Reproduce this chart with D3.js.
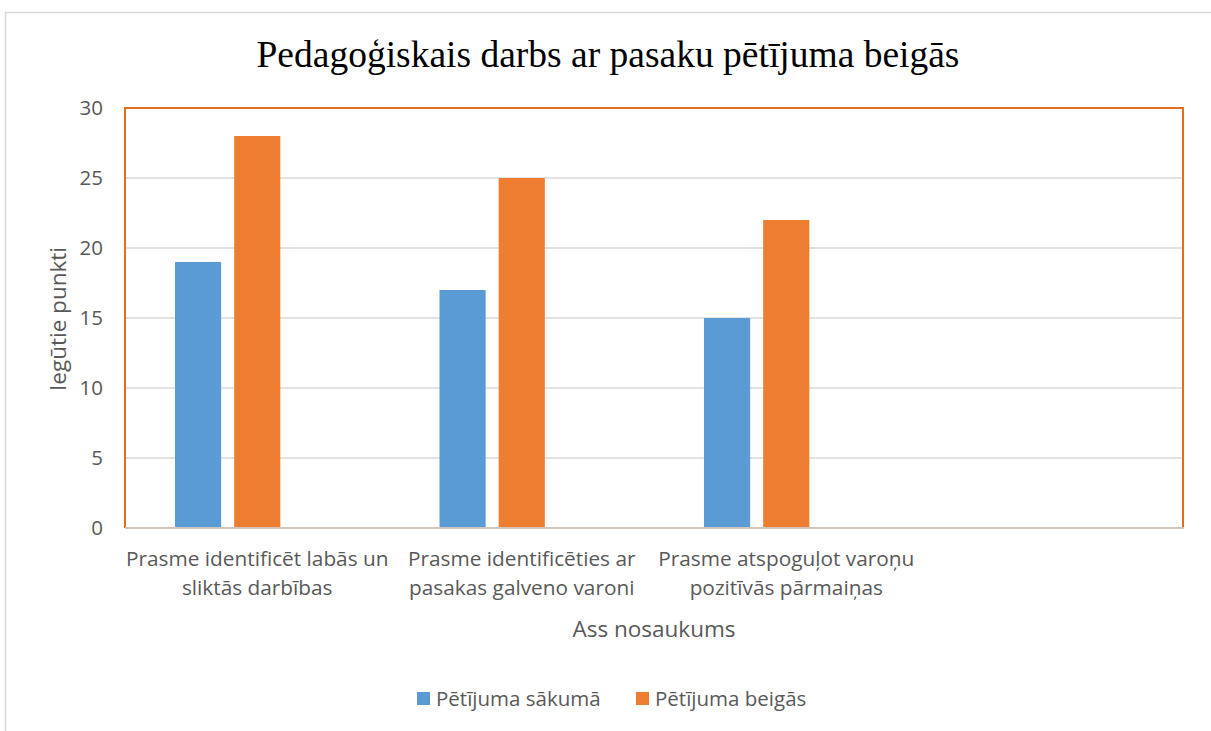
<!DOCTYPE html>
<html><head><meta charset="utf-8">
<script src="https://cdn.jsdelivr.net/npm/d3@7"></script>
<style>body{margin:0;background:#fff}svg{display:block}</style>
</head><body>
<svg id="c" width="1211" height="731"></svg>
<script>
const categories = [
  ["Prasme identificēt labās un", "sliktās darbības"],
  ["Prasme identificēties ar", "pasakas galveno varoni"],
  ["Prasme atspoguļot varoņu", "pozitīvās pārmaiņas"],
  [""]
];
const seriesNames = ["Pētījuma sākumā", "Pētījuma beigās", "Series3"];
const seriesStart = [19, 17, 15, null];
const seriesEnd = [28, 25, 22, null];
const seriesThird = [null, null, null, null];
const yTicks = [0, 5, 10, 15, 20, 25, 30];
const colors = ["#5b9bd5", "#ed7d31", "#a5a5a5"];
const title = "Pedagoģiskais darbs ar pasaku pētījuma beigās";
const yTitle = "Iegūtie punkti";
const xTitle = "Ass nosaukums";

const svg = d3.select("#c");
const L = 125, R = 1183, T = 108, B = 528;
const sans = "'Open Sans', sans-serif";
const txt = "#595959";

svg.append("rect").attr("x", 5.5).attr("y", 12.5).attr("width", 1230).attr("height", 740)
  .attr("fill", "#fff").attr("stroke", "#d9d9d9").attr("stroke-width", 1.5);

const idx = categories.map((d, i) => i);
const x0 = d3.scaleBand().domain(idx).range([L, R]);
const x1 = d3.scaleBand().domain([0, 1, 2]).range([50, x0.bandwidth() - 50]).paddingInner(0.22);
const y = d3.scaleLinear().domain([0, 30]).range([B, T]);

// gridlines
svg.append("g").selectAll("line").data(yTicks.slice(1)).join("line")
  .attr("x1", L).attr("x2", R).attr("y1", d => y(d)).attr("y2", d => y(d))
  .attr("stroke", "#d9d9d9").attr("stroke-width", 1.3);

const data = [seriesStart, seriesEnd, seriesThird];
data.forEach((s, si) => {
  svg.append("g").selectAll("rect").data(s.map((v, i) => ({v, i})).filter(d => d.v != null)).join("rect")
    .attr("x", d => x0(d.i) + x1(si)).attr("width", x1.bandwidth())
    .attr("y", d => y(d.v)).attr("height", d => y(0) - y(d.v))
    .attr("fill", colors[si]);
});

// plot frame (orange)
svg.append("path").attr("d", `M${L},${B}V${T}H${R}V${B}`).attr("fill", "none")
  .attr("stroke", "#e46c1e").attr("stroke-width", 2);
// x axis line
svg.append("line").attr("x1", L).attr("x2", R + 1).attr("y1", B).attr("y2", B)
  .attr("stroke", "#d0c4bc").attr("stroke-width", 2);

// y tick labels
svg.append("g").selectAll("text").data(yTicks).join("text")
  .attr("x", 103).attr("y", d => y(d)).attr("dy", "0.35em").attr("text-anchor", "end")
  .attr("font-family", sans).attr("font-size", 20.5).attr("fill", txt).text(d => d);

// category labels
const cl = svg.append("g").selectAll("text").data(idx).join("text")
  .attr("x", d => x0(d) + x0.bandwidth() / 2).attr("y", 566).attr("text-anchor", "middle")
  .attr("font-family", sans).attr("font-size", 20.8).attr("fill", txt);
cl.selectAll("tspan").data(d => categories[d]).join("tspan")
  .attr("x", function() { return d3.select(this.parentNode).attr("x"); })
  .attr("dy", (d, i) => i ? 29 : 0).text(d => d);

// title
svg.append("text").attr("x", 608).attr("y", 67).attr("text-anchor", "middle")
  .attr("font-family", "'Liberation Serif', serif").attr("font-size", 37.5).attr("fill", "#000").text(title);

// axis titles
svg.append("text").attr("transform", "translate(66,319) rotate(-90)").attr("text-anchor", "middle")
  .attr("font-family", sans).attr("font-size", 22.5).attr("fill", txt).text(yTitle);
svg.append("text").attr("x", 654).attr("y", 637).attr("text-anchor", "middle")
  .attr("font-family", sans).attr("font-size", 22.5).attr("fill", txt).text(xTitle);

// legend
const leg = [{n: seriesNames[0], c: colors[0], x: 417}, {n: seriesNames[1], c: colors[1], x: 636}];
const lg = svg.append("g").selectAll("g").data(leg).join("g").attr("transform", d => `translate(${d.x},692)`);
lg.append("rect").attr("width", 13).attr("height", 13).attr("fill", d => d.c);
lg.append("text").attr("x", 19).attr("y", 6.5).attr("dy", "0.35em").attr("font-family", sans)
  .attr("font-size", 20.5).attr("fill", txt).text(d => d.n);
</script>
</body></html>
